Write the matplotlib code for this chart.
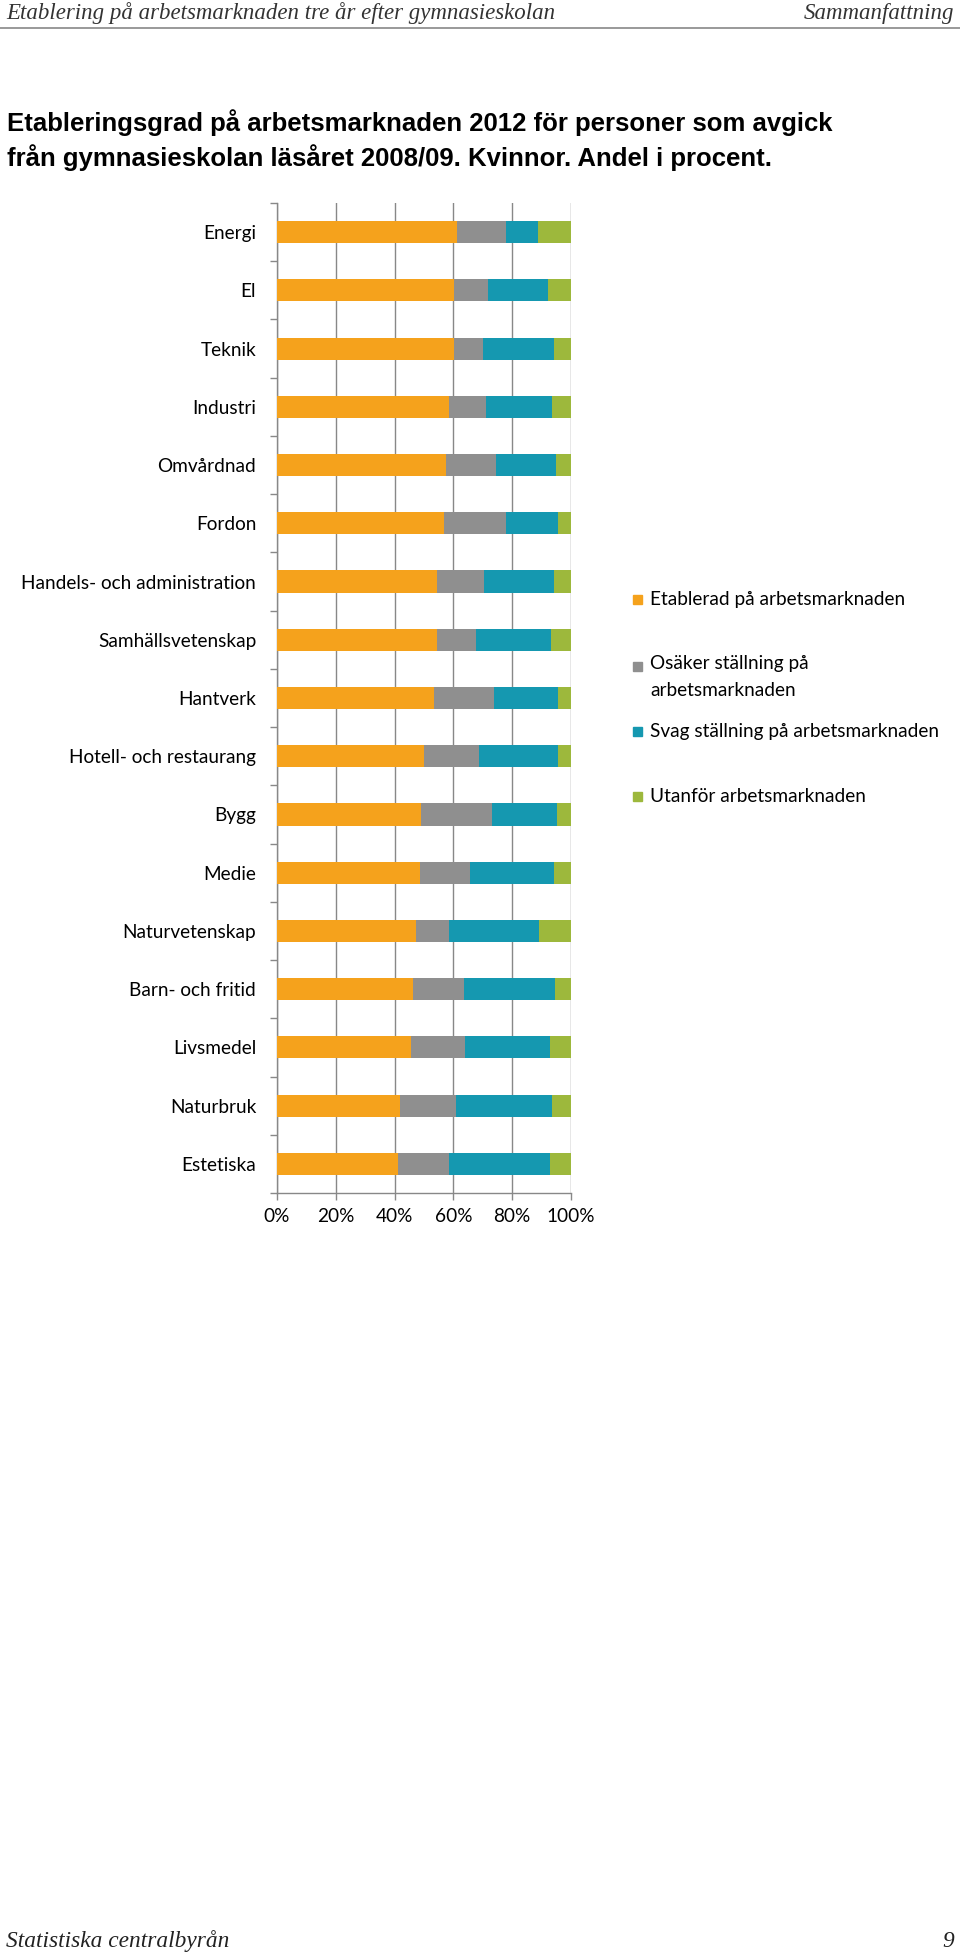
import matplotlib
matplotlib.use("Agg")
import matplotlib.pyplot as plt
from matplotlib.patches import Rectangle
import numpy as np

# data (andel i procent)
program = ["Energi", "El", "Teknik", "Industri", "Omvårdnad", "Fordon",
           "Handels- och administration", "Samhällsvetenskap", "Hantverk",
           "Hotell- och restaurang", "Bygg", "Medie", "Naturvetenskap",
           "Barn- och fritid", "Livsmedel", "Naturbruk", "Estetiska"]
etablerad = [61.3, 60.1, 60.1, 58.5, 57.4, 56.7, 54.3, 54.3, 53.5, 50.1,
             49.0, 48.5, 47.3, 46.1, 45.6, 41.8, 41.0]
osaker = [16.7, 11.6, 10.0, 12.5, 17.0, 21.3, 16.0, 13.3, 20.2, 18.6,
          24.2, 17.0, 11.2, 17.5, 18.4, 19.1, 17.4]
svag = [10.9, 20.6, 24.2, 22.6, 20.6, 17.7, 24.0, 25.6, 21.9, 26.9,
        22.0, 28.6, 30.7, 31.1, 28.7, 32.5, 34.5]
utanfor = [11.1, 7.7, 5.7, 6.4, 5.0, 4.3, 5.7, 6.8, 4.3, 4.3,
           4.8, 5.9, 10.8, 5.3, 7.3, 6.6, 7.1]

serier = ["Etablerad på arbetsmarknaden", "Osäker ställning på\narbetsmarknaden",
          "Svag ställning på arbetsmarknaden", "Utanför arbetsmarknaden"]
farger = ["#F5A21C", "#8F8F8F", "#1598B0", "#9DB83C"]
xticks = [0, 20, 40, 60, 80, 100]

fnt = "Lato"
fs = 13.7
W, H = 960, 1960
fig = plt.figure(figsize=(9.6, 19.6), dpi=100)

# header / footer of the page
fig.text(6 / W, 1 - 13 / H, "Etablering på arbetsmarknaden tre år efter gymnasieskolan",
         family="Liberation Serif", style="italic", fontsize=16.5, color="#333333", va="center")
fig.text(954 / W, 1 - 13 / H, "Sammanfattning", family="Liberation Serif",
         style="italic", fontsize=16.5, color="#333333", va="center", ha="right")
fig.add_artist(plt.Line2D([0, 1], [1 - 28 / H, 1 - 28 / H], color="#888888", lw=1.2))
fig.text(6 / W, 1 - 1941 / H, "Statistiska centralbyrån", family="Liberation Serif",
         style="italic", fontsize=16.8, color="#222222", va="center")
fig.text(954 / W, 1 - 1941 / H, "9", family="Liberation Serif",
         style="italic", fontsize=16.8, color="#222222", va="center", ha="right")

# title
fig.text(7 / W, 1 - 123 / H, "Etableringsgrad på arbetsmarknaden 2012 för personer som avgick",
         family="Liberation Sans", weight="bold", fontsize=18.5, va="center")
fig.text(7 / W, 1 - 158 / H, "från gymnasieskolan läsåret 2008/09. Kvinnor. Andel i procent.",
         family="Liberation Sans", weight="bold", fontsize=18.5, va="center")

ax = fig.add_axes([277 / W, 1 - 1193 / H, 294 / W, 990 / H])
y = np.arange(len(program))
left = np.zeros(len(program))
for vals, c in zip([etablerad, osaker, svag, utanfor], farger):
    ax.barh(y, vals, left=left, height=0.38, color=c, zorder=3)
    left = left + np.array(vals)

ax.set_xlim(0, 100)
ax.set_ylim(len(program) - 0.5, -0.5)
ax.set_xticks(xticks)
ax.set_xticklabels([f"{v}%" for v in xticks], family=fnt, fontsize=fs)
ax.set_yticks(y)
ax.set_yticklabels(program, family=fnt, fontsize=fs)
ax.set_yticks(np.arange(-0.5, len(program)), minor=True)
ax.tick_params(axis="y", which="major", length=0, pad=15)
ax.tick_params(axis="y", which="minor", length=5, color="#888888", width=1)
ax.tick_params(axis="x", length=5, color="#888888", width=1, pad=6)
ax.grid(axis="x", color="#888888", lw=1, zorder=0)
for s in ["top", "right"]:
    ax.spines[s].set_visible(False)
for s in ["left", "bottom"]:
    ax.spines[s].set_color("#888888")
    ax.spines[s].set_linewidth(1)

# legend
leg_y = [600, 666, 731, 796]
for lab, c, yy in zip(serier, farger, leg_y):
    fig.add_artist(Rectangle((633 / W, 1 - (yy + 4.5) / H), 9 / W, 9 / H,
                             transform=fig.transFigure, color=c))
    if "\n" in lab:
        fig.text(650 / W, 1 - (yy - 11) / H, lab, family=fnt, fontsize=fs, va="top",
                 linespacing=1.7)
    else:
        fig.text(650 / W, 1 - yy / H, lab, family=fnt, fontsize=fs, va="center")

fig.savefig("out.png", dpi=100)
